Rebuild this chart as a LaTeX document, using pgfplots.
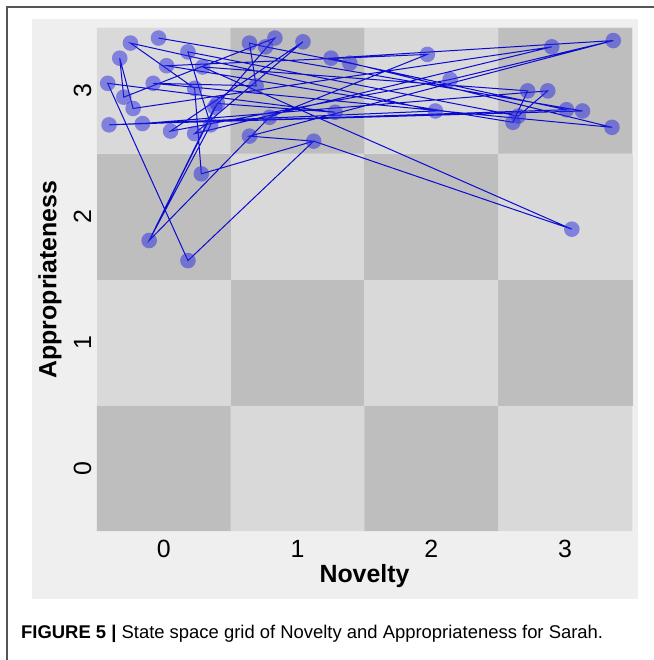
\documentclass[border=0pt]{standalone}
\usepackage{fontspec}
\setmainfont{Liberation Sans}
\usepackage{pgfplots}
\pgfplotsset{compat=1.18}
\definecolor{panel}{RGB}{239,239,239}
\definecolor{framec}{RGB}{85,85,85}
\definecolor{ptfill}{RGB}{40,40,225}
\definecolor{linec}{RGB}{10,10,210}
\begin{document}
\begin{tikzpicture}[x=1bp,y=1bp]
\path[use as bounding box] (0,0) rectangle (654,660);
\fill[panel] (32,61) rectangle (638,641);
\draw[framec, line width=1.4bp] (654,653) -- (7,653) -- (7,0);
\node[anchor=base west, font=\fontsize{18.5}{18}\selectfont, inner sep=0pt] at (21,21)
  {\textbf{FIGURE 5 |} State space grid of Novelty and Appropriateness for Sarah.};
\begin{axis}[
  at={(97bp,129bp)}, anchor=south west,
  scale only axis, width=535bp, height=503bp,
  xmin=-0.5, xmax=3.5, ymin=-0.5, ymax=3.5,
  clip=false,
  axis line style={draw=none},
  major tick length=0pt,
  xtick={0,1,2,3}, ytick={0,1,2,3},
  /pgf/number format/assume math mode=true,
  xticklabel style={anchor=center, yshift=-18bp, font=\fontsize{25}{25}\selectfont},
  yticklabel style={xshift=-14.5bp, rotate=90, anchor=center, font=\fontsize{25}{25}\selectfont},
  xlabel={\textbf{Novelty}},
  ylabel={\textbf{Appropriateness}},
  xlabel style={at={(axis description cs:0.5,-0.0895)}, anchor=center, font=\fontsize{25}{25}\selectfont},
  ylabel style={at={(axis description cs:-0.0879,0.5)}, anchor=center, rotate=0, font=\fontsize{25}{25}\selectfont},
  colormap={cells}{rgb255=(190,190,190) rgb255=(217,217,217)},
  point meta min=0, point meta max=1,
]
\addplot[matrix plot*, mesh/cols=4, point meta=explicit] table[meta=c] {
x y c
0 0 0
1 0 1
2 0 0
3 0 1
0 1 1
1 1 0
2 1 1
3 1 0
0 2 0
1 2 1
2 2 0
3 2 1
0 3 1
1 3 0
2 3 1
3 3 0
};
\addplot[only marks, mark=*, color=ptfill, mark size=7.8bp, mark options={draw opacity=0, fill=ptfill, fill opacity=0.5}] table {
x y
-0.04 3.42
3.13 2.84
-0.16 2.74
2.87 3.00
2.65 2.80
0.18 3.31
0.35 2.73
-0.11 1.81
0.38 2.87
0.83 3.42
-0.30 2.95
-0.33 3.26
-0.23 2.86
2.90 3.35
0.23 2.66
1.04 3.39
0.05 2.68
2.14 3.09
3.36 3.40
1.25 3.26
3.35 2.71
-0.08 3.06
0.69 3.04
0.64 3.38
0.76 3.35
1.39 3.22
3.01 2.85
-0.41 2.73
2.03 2.84
-0.25 3.38
0.23 3.02
0.28 2.34
1.12 2.60
3.05 1.90
0.29 3.19
2.72 3.00
2.61 2.75
0.02 3.20
1.97 3.29
0.79 2.79
0.40 2.90
1.28 2.83
-0.42 3.06
0.18 1.65
0.64 2.64
};
\addplot[linec, line width=1bp, no marks] table {
x y
-0.04 3.42
3.13 2.84
-0.16 2.74
2.87 3.00
2.65 2.80
0.18 3.31
0.35 2.73
-0.11 1.81
0.38 2.87
0.83 3.42
-0.30 2.95
-0.33 3.26
-0.23 2.86
2.90 3.35
0.23 2.66
1.04 3.39
0.05 2.68
2.14 3.09
3.36 3.40
1.25 3.26
3.35 2.71
-0.08 3.06
0.69 3.04
0.64 3.38
0.76 3.35
1.39 3.22
3.01 2.85
-0.41 2.73
2.03 2.84
-0.25 3.38
0.23 3.02
0.28 2.34
1.12 2.60
3.05 1.90
0.29 3.19
2.72 3.00
2.61 2.75
0.02 3.20
1.97 3.29
0.79 2.79
-0.11 1.81
0.40 2.90
1.28 2.83
-0.42 3.06
0.18 1.65
1.12 2.60
0.64 2.64
3.36 3.40
};
\end{axis}
\end{tikzpicture}
\end{document}
